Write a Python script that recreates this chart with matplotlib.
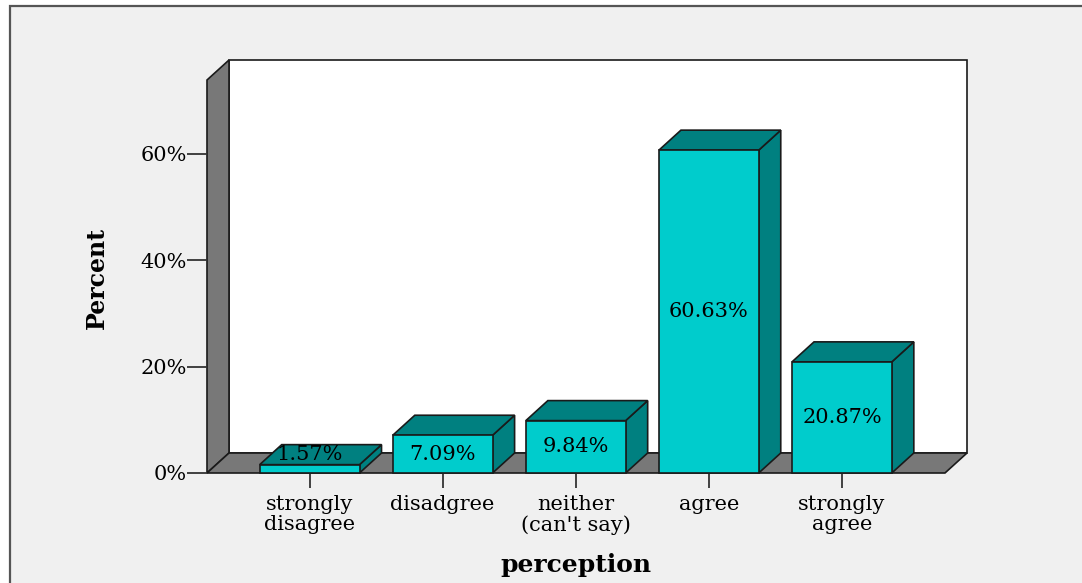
import matplotlib
matplotlib.use("Agg")
import matplotlib.pyplot as plt
from matplotlib.patches import Polygon, Rectangle

categories = ["strongly\ndisagree", "disadgree", "neither\n(can't say)", "agree", "strongly\nagree"]
percent = [1.57, 7.09, 9.84, 60.63, 20.87]
y_ticks = [0, 20, 40, 60]
y_tick_labels = ["0%", "20%", "40%", "60%"]

FRONT = "#00cccc"
SHADE = "#008080"
WALL = "#787878"
EDGE = "#1a1a1a"
FONT = "DejaVu Serif"
FS = 15

W, H, DPI = 1082, 583, 100
fig = plt.figure(figsize=(W / DPI, H / DPI), dpi=DPI, facecolor="white")

# outer chart frame (runs off the right and bottom edges)
bg = fig.add_axes([0, 0, 1, 1], zorder=0)
bg.set_xlim(0, W)
bg.set_ylim(H, 0)
bg.axis("off")
bg.add_patch(Rectangle((10, 6), W + 50, H + 50, facecolor="#f0f0f0",
                       edgecolor="#555555", lw=1.6))

ax = fig.add_axes([207 / W, (H - 473) / H, (967 - 207) / W, (473 - 60) / H], zorder=2)
ax.set_facecolor("none")
for s in ax.spines.values():
    s.set_visible(False)

xl, xr = -0.771, 4.94
ymax = 77.56
ax.set_xlim(xl, xr)
ax.set_ylim(0, ymax)

# depth of the 3-D extrusion, in data units
dx = 22 / 133
dy = 20 / 5.325
bw = 0.75

kw = dict(edgecolor=EDGE, lw=1.2, joinstyle="miter", clip_on=False)

# back wall, side wall and floor
ax.add_patch(Polygon([(xl + dx, dy), (xl + dx, ymax), (xr, ymax), (xr, dy)],
                     facecolor="white", zorder=1, **kw))
ax.add_patch(Polygon([(xl, 0), (xl, ymax - dy), (xl + dx, ymax), (xl + dx, dy)],
                     facecolor=WALL, zorder=1, **kw))
ax.add_patch(Polygon([(xl, 0), (xl + dx, dy), (xr, dy), (xr - dx, 0)],
                     facecolor=WALL, zorder=1, **kw))

# bars
for i, v in enumerate(percent):
    x0, x1 = i - bw / 2, i + bw / 2
    ax.add_patch(Polygon([(x1, 0), (x1 + dx, dy), (x1 + dx, v + dy), (x1, v)],
                         facecolor=SHADE, zorder=2, **kw))
    ax.add_patch(Polygon([(x0, v), (x0 + dx, v + dy), (x1 + dx, v + dy), (x1, v)],
                         facecolor=SHADE, zorder=2, **kw))
    ax.add_patch(Rectangle((x0, 0), bw, v, facecolor=FRONT, zorder=3, **kw))
    ax.text(i, max(v / 2, 3.4), f"{v:.2f}%", ha="center", va="center",
            fontsize=FS, family=FONT, color="black", zorder=4)

ax.set_yticks(y_ticks)
ax.set_yticklabels(y_tick_labels, family=FONT, fontsize=FS)
ax.set_xticks(range(len(categories)))
ax.set_xticklabels(categories, family=FONT, fontsize=FS, linespacing=1.1)
ax.tick_params(axis="y", length=14.4, width=1.3, color="#333333", pad=0)
ax.tick_params(axis="x", length=10.8, width=1.3, color="#333333", pad=5)

ax.set_ylabel("Percent", family=FONT, fontsize=17, fontweight="bold",
              ha="center", va="center")
ax.yaxis.set_label_coords(-0.1447, 0.472)
ax.set_xlabel("perception", family=FONT, fontsize=18, fontweight="bold",
              ha="center", va="center")
ax.xaxis.set_label_coords(0.4855, -0.223)

fig.savefig("out.png", dpi=DPI, facecolor="white")
